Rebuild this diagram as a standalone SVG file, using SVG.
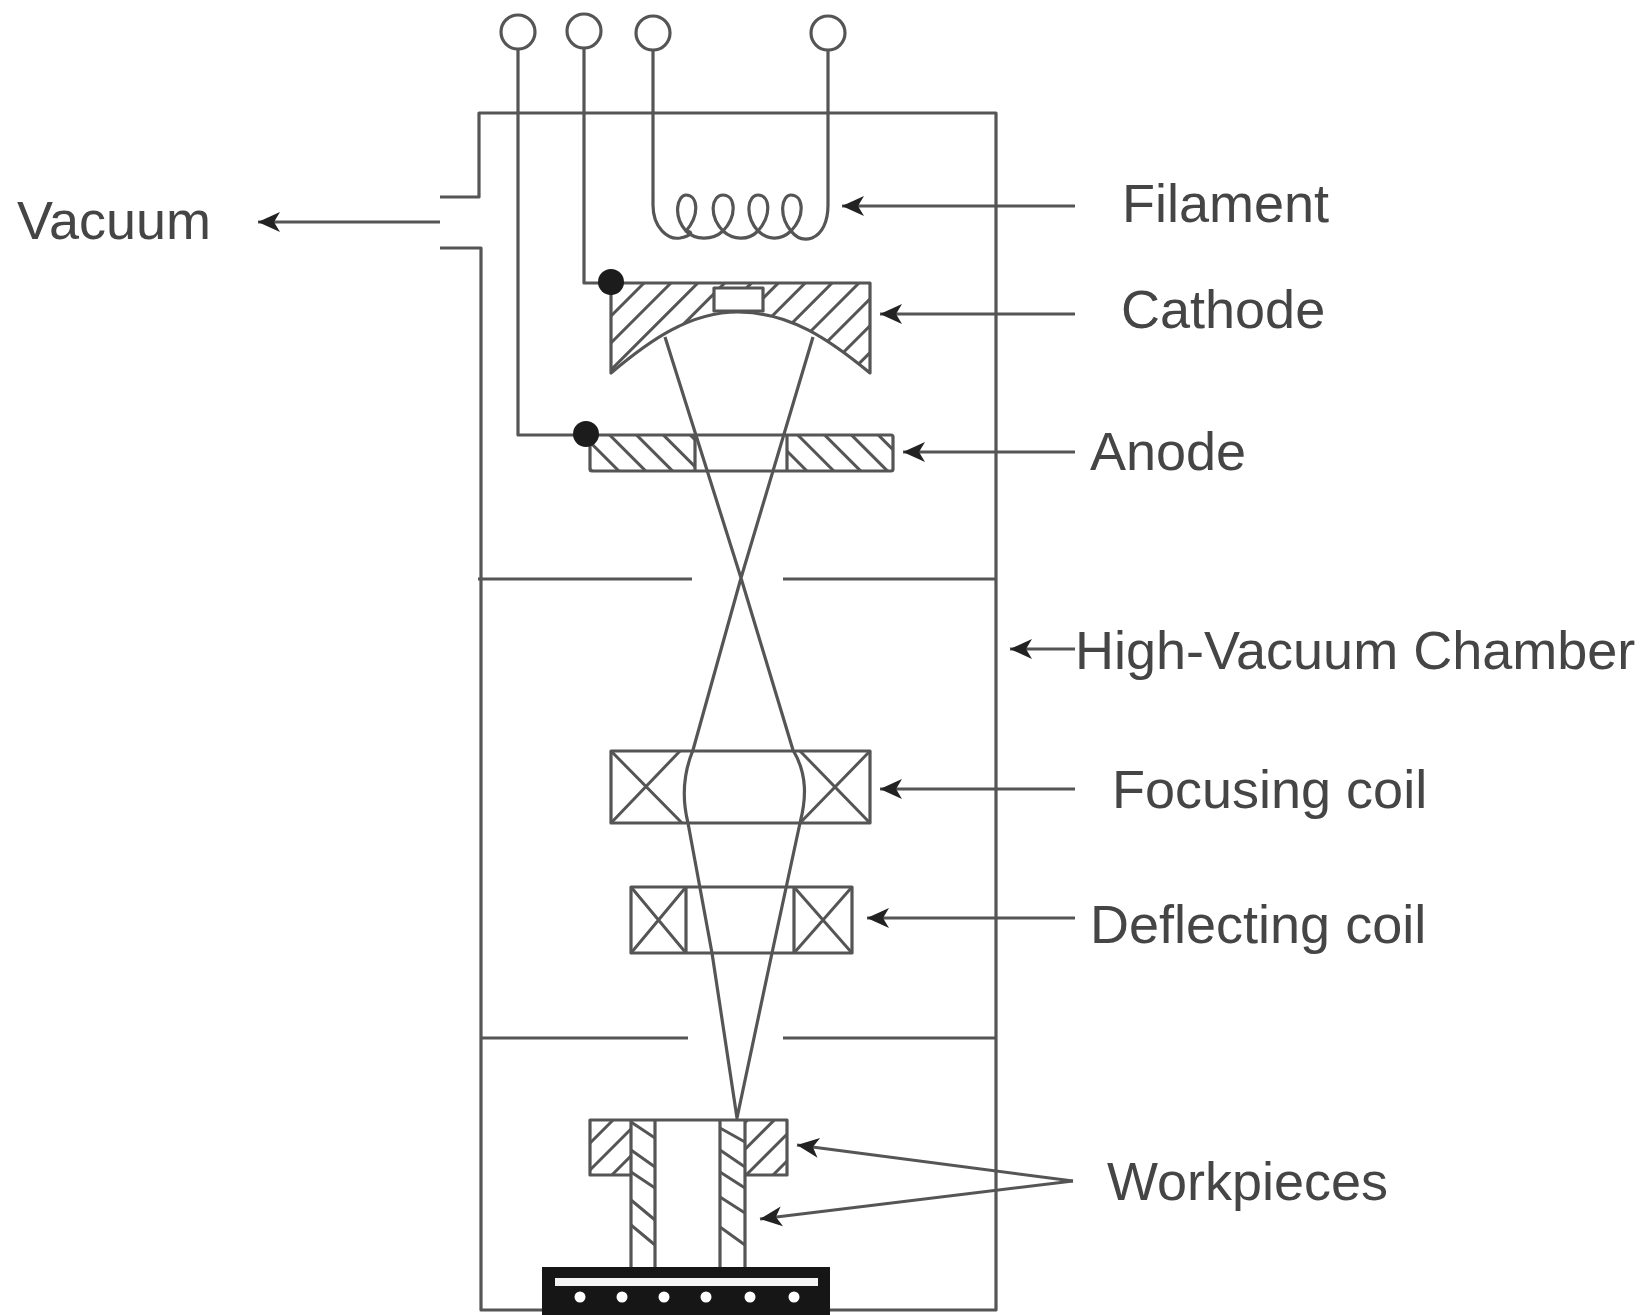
<svg xmlns="http://www.w3.org/2000/svg" width="1648" height="1315" viewBox="0 0 1648 1315">
<style>
.l{fill:none;stroke:#555;stroke-width:3.2;stroke-linejoin:round}
.h{stroke:#555;stroke-width:3;fill:none}
.t{font-family:"Liberation Sans",Arial,sans-serif;font-size:54px;fill:#444}
.a{fill:none;stroke:#555;stroke-width:3;marker-end:url(#ah)}
.d{fill:#1a1a1f}
</style>
<defs>
<filter id="b" x="-5%" y="-5%" width="110%" height="110%"><feGaussianBlur stdDeviation="0.7"/></filter>
<marker id="ah" markerUnits="userSpaceOnUse" markerWidth="26" markerHeight="24" refX="24" refY="12" orient="auto"><path d="M24 12L2 2L8 12L2 22Z" fill="#222"/></marker>
<pattern id="p1" width="19" height="19" patternUnits="userSpaceOnUse" patternTransform="rotate(-45)"><path d="M0 9.5H19" class="h"/></pattern>
<pattern id="p2" width="19" height="19" patternUnits="userSpaceOnUse" patternTransform="rotate(45)"><path d="M0 9.5H19" class="h"/></pattern>
</defs>
<rect width="1648" height="1315" fill="#fff"/>
<g filter="url(#b)">
<g id="connectors">
<path class="l" d="M518 49V435H586"/>
<path class="l" d="M584 48V283H611"/>
<path class="l" d="M653 50V205C653 228 668 240 680 238C690 236 695 232 686 231C672 215 678 195 686 195C698 195 700 215 686 231C695 240 712 241 723 231C708 215 712 195 723 195C735 195 738 215 723 231C733 240 748 241 758 231C744 215 748 195 758 195C770 195 772 215 758 231C768 240 780 241 791 231C778 215 782 195 791 195C803 195 806 215 791 231C798 240 806 240 812 238C822 234 828 222 828 205V50"/>
<path class="l" d="M665 337L741 578L693 750C684 772 681 795 688 823L712 953L737 1118L772 953L800 823C806 800 808 775 793 750L741 578L813 337"/>
<path class="a" d="M440 222H258"/>
<path class="a" d="M1075 206H842"/>
<path class="a" d="M1075 314H880"/>
<path class="a" d="M1075 452H903"/>
<path class="a" d="M1075 649H1010"/>
<path class="a" d="M1075 789H880"/>
<path class="a" d="M1075 918H867"/>
<path class="a" d="M1073 1181L797 1145"/>
<path class="a" d="M1073 1181L760 1219"/>
</g>
<g id="chamber">
<path class="l" d="M440 197H479V113H996V1310H830M542 1310H481V248H440"/>
<path class="l" d="M478 579H692M783 579H996M481 1038H688M783 1038H996"/>
</g>
<g id="cathode">
<path d="M611 283H870V373C830 340 790 312 738 312C690 312 650 340 611 373Z" fill="url(#p1)"/>
<path class="l" d="M611 283H870V373C830 340 790 312 738 312C690 312 650 340 611 373Z"/>
<rect x="714" y="288" width="49" height="23" style="fill:#fff" class="l"/>
<circle class="d" cx="611" cy="282" r="13"/>
</g>
<g id="anode">
<path d="M590 435H695V471H590ZM787 435H893V471H787Z" fill="url(#p2)"/>
<rect class="l" x="590" y="435" width="303" height="36" rx="2"/>
<path class="l" d="M695 435V471M787 435V471"/>
<circle class="d" cx="586" cy="434" r="13"/>
</g>
<g id="focusing-coil">
<rect class="l" x="611" y="751" width="259" height="72"/>
<path class="h" d="M611 751L682 823M611 823L680 751M800 751L870 823M800 823L870 751"/>
</g>
<g id="deflecting-coil">
<rect class="l" x="631" y="887" width="221" height="66"/>
<path class="l" d="M686 887V953M794 887V953"/>
<path class="h" d="M631 887L686 953M631 953L686 887M794 887L852 953M794 953L852 887"/>
</g>
<g id="workpieces">
<path d="M590 1120H631V1175H590ZM745 1120H787V1175H745Z" fill="url(#p1)"/>
<path class="h" d="M631 1122L655 1138M631 1150L655 1167M631 1172L655 1188M631 1200L655 1220M631 1225L655 1245M720 1128L745 1142M720 1150L745 1167M720 1172L745 1188M720 1197L745 1213M720 1227L745 1245"/>
<path class="l" d="M631 1175H590V1120H787V1175H745"/>
<path class="l" d="M631 1120V1267M655 1120V1267M720 1120V1267M745 1120V1267"/>
</g>
<g id="base">
<rect x="542" y="1267" width="288" height="48" fill="#151518"/>
<rect x="555" y="1278" width="263" height="8" fill="#f4f4f4"/>
<g fill="#fff"><circle cx="580" cy="1297" r="5.5"/><circle cx="622" cy="1297" r="5.5"/><circle cx="664" cy="1297" r="5.5"/><circle cx="706" cy="1297" r="5.5"/><circle cx="750" cy="1297" r="5.5"/><circle cx="794" cy="1297" r="5.5"/></g>
</g>
<g id="terminals">
<circle class="l" cx="518" cy="32" r="17"/>
<circle class="l" cx="584" cy="31" r="17"/>
<circle class="l" cx="653" cy="33" r="17"/>
<circle class="l" cx="828" cy="33" r="17"/>
</g>
<g id="labels">
<text class="t" x="17" y="239">Vacuum</text>
<text class="t" x="1122" y="222">Filament</text>
<text class="t" x="1121" y="328">Cathode</text>
<text class="t" x="1090" y="470">Anode</text>
<text class="t" x="1075" y="669">High-Vacuum Chamber</text>
<text class="t" x="1112" y="808">Focusing coil</text>
<text class="t" x="1090" y="943">Deflecting coil</text>
<text class="t" x="1107" y="1200">Workpieces</text>
</g>
</g>
</svg>
